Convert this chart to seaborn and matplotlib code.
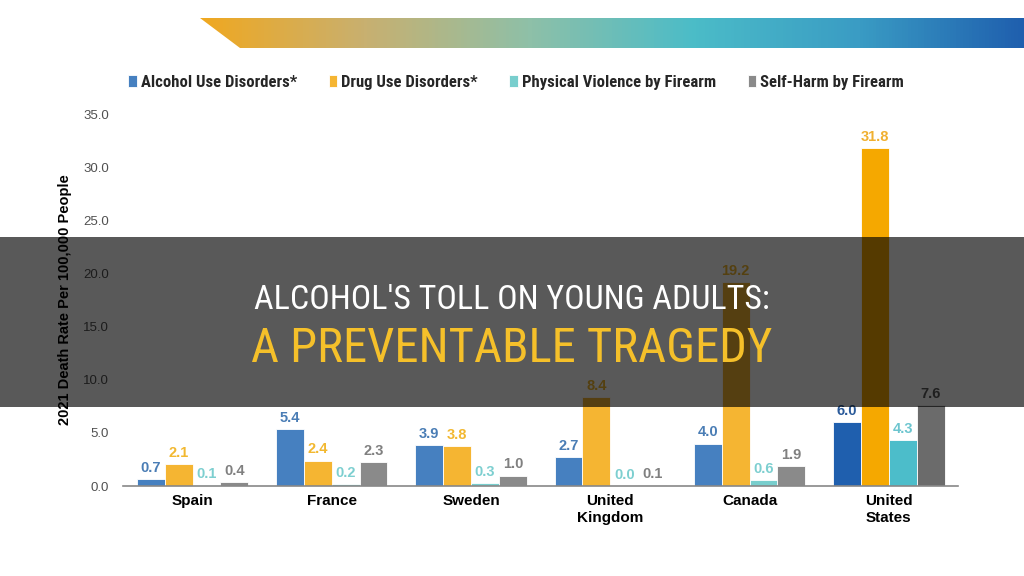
import matplotlib
matplotlib.use("Agg")
import matplotlib.pyplot as plt
import numpy as np
import pandas as pd
import seaborn as sns
from matplotlib.colors import LinearSegmentedColormap
from matplotlib.patches import Polygon, Rectangle

countries = ["Spain", "France", "Sweden", "United\nKingdom", "Canada", "United\nStates"]
causes = ["Alcohol Use Disorders*", "Drug Use Disorders*",
          "Physical Violence by Firearm", "Self-Harm by Firearm"]
alcohol = [0.7, 5.4, 3.9, 2.7, 4.0, 6.0]
drug = [2.1, 2.4, 3.8, 8.4, 19.2, 31.8]
violence = [0.1, 0.2, 0.3, 0.0, 0.6, 4.3]
selfharm = [0.4, 2.3, 1.0, 0.1, 1.9, 7.6]
yticks = [0, 5, 10, 15, 20, 25, 30, 35]

title1 = "ALCOHOL'S TOLL ON YOUNG ADULTS:"
title2 = "A PREVENTABLE TRAGEDY"

bar_colors = ["#4680C0", "#F5B532", "#78CECD", "#8A8A8A"]
us_colors = ["#1F5FAE", "#F5A800", "#4CBDCA", "#6B6B6B"]
label_colors = ["#4A7DB5", "#F2B830", "#7DCFD0", "#808080"]
us_label_colors = ["#2A5A9A", "#F0B030", "#6CC5CF", "#5A5A5A"]

df = pd.DataFrame({
    "country": countries * 4,
    "cause": np.repeat(causes, len(countries)),
    "rate": alcohol + drug + violence + selfharm,
})

sns.set_style("white")
plt.rcParams["font.family"] = ["Liberation Sans", "DejaVu Sans"]

fig = plt.figure(figsize=(10.24, 5.76), dpi=100)
ax = fig.add_axes([0.120, 0.156, 0.816, 0.646])

sns.barplot(data=df, x="country", y="rate", hue="cause", palette=bar_colors,
            saturation=1, width=0.8, edgecolor="white", linewidth=0.6, ax=ax,
            legend=True)

for i, cont in enumerate(ax.containers):
    cont.patches[5].set_facecolor(us_colors[i])
    texts = ax.bar_label(cont, fmt="%.1f", padding=3, color=label_colors[i],
                         fontweight="bold", fontsize=10.5)
    texts[5].set_color(us_label_colors[i])

ax.set_ylim(0, 35)
ax.set_yticks(yticks)
ax.set_yticklabels([f"{v:.1f}" for v in yticks], fontsize=9.5, color="#505050")
ax.tick_params(axis="y", length=0, pad=10)
ax.tick_params(axis="x", length=0, pad=6)
for lab in ax.get_xticklabels():
    lab.set_fontweight("bold")
    lab.set_fontsize(11)
    lab.set_color("black")
ax.set_xlabel("")
ax.set_ylabel("2021 Death Rate Per 100,000 People", fontweight="bold",
              fontsize=10.5, color="black", labelpad=8)
for s in ["top", "right", "left"]:
    ax.spines[s].set_visible(False)
ax.spines["bottom"].set_color("#888888")
ax.spines["bottom"].set_linewidth(1.2)

handles, labels = ax.get_legend_handles_labels()
ax.legend_.remove()
fig.legend(handles, labels, loc="center", bbox_to_anchor=(0.504, 0.857), ncol=4,
           frameon=False, handlelength=0.5, handleheight=0.65, handletextpad=0.25,
           columnspacing=1.9,
           prop={"family": ["Roboto Condensed", "Liberation Sans"],
                 "stretch": "condensed", "weight": "bold", "size": 12})

# overlay layer in pixel coords
ov = fig.add_axes([0, 0, 1, 1], zorder=10)
ov.axis("off")
ov.patch.set_alpha(0)

grad = LinearSegmentedColormap.from_list(
    "band", ["#F0A820", "#C8B070", "#8EC0A8", "#4BBCC8", "#3A9CC4", "#1F5FAE"])
banner = Polygon([(200, 18), (1024, 18), (1024, 48), (240, 48)], closed=True,
                 facecolor="none", edgecolor="none")
ov.add_patch(banner)
img = ov.imshow(np.linspace(0, 1, 256).reshape(1, -1), cmap=grad, aspect="auto",
                extent=(200, 1024, 48, 18))
img.set_clip_path(banner)
ov.set_xlim(0, 1024)
ov.set_ylim(576, 0)

ov.add_patch(Rectangle((0, 237), 1024, 170, facecolor="black", alpha=0.65,
                       edgecolor="none"))
title_font = ["Roboto Condensed", "DejaVu Sans"]
ov.text(512, 300, title1, ha="center", va="center", color="white", fontsize=24.5,
        family=title_font, stretch="condensed")
ov.text(512, 349, title2, ha="center", va="center", color="#F5C02A", fontsize=35,
        family=title_font, stretch="condensed")

fig.savefig("out.png", dpi=100)
